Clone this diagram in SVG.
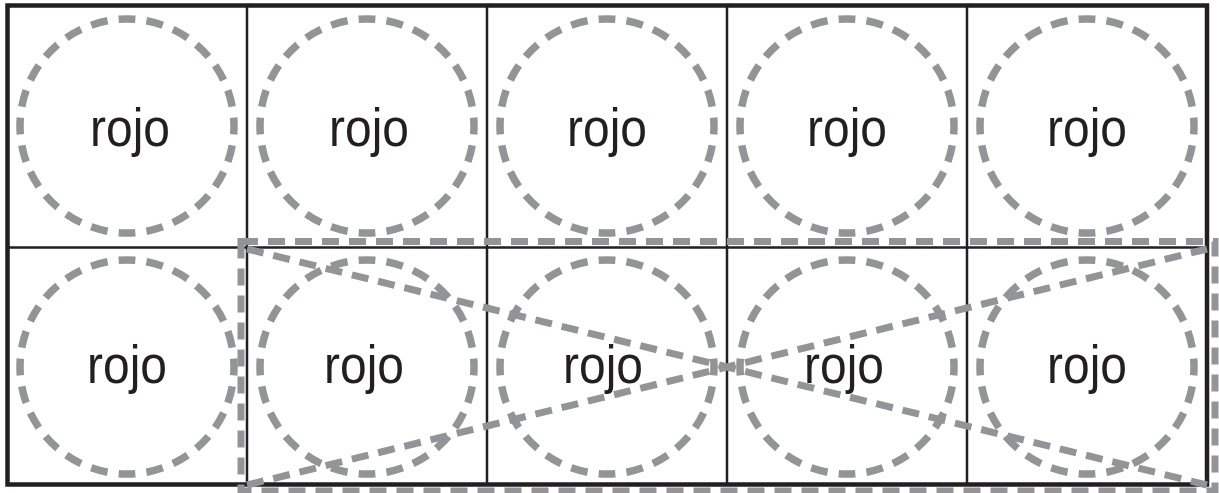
<svg xmlns="http://www.w3.org/2000/svg" width="1219" height="493" viewBox="0 0 1219 493">
  <style>
    .grid { fill: none; stroke: #231f20; }
    .ring { fill: none; stroke: #929497; stroke-width: 7.5; stroke-dasharray: 0.607 0.393; stroke-dashoffset: 0.3035; }
    .lbl { font-family: "Liberation Sans", Arial, sans-serif; font-size: 53px; fill: #231f20; text-anchor: middle; }
    .conn { fill: none; stroke: #929497; stroke-width: 7; stroke-dasharray: 17 10; }
  </style>
  <rect width="1219" height="493" fill="#ffffff"/>
  <g id="grid">
    <rect class="grid" x="7.5" y="5.5" width="1199.5" height="479" stroke-width="4.5"/>
    <line class="grid" x1="7.5" y1="247.5" x2="1207" y2="247.5" stroke-width="2.5"/>
    <line class="grid" x1="247" y1="5.5" x2="247" y2="484.5" stroke-width="2.5"/>
    <line class="grid" x1="487" y1="5.5" x2="487" y2="484.5" stroke-width="2.5"/>
    <line class="grid" x1="727" y1="5.5" x2="727" y2="484.5" stroke-width="2.5"/>
    <line class="grid" x1="967" y1="5.5" x2="967" y2="484.5" stroke-width="2.5"/>
  </g>
  <g id="node-r1c1"><circle class="ring" cx="127" cy="126" r="107" pathLength="24"/><text class="lbl" x="130" y="146" textLength="80" lengthAdjust="spacingAndGlyphs">rojo</text></g>
  <g id="node-r1c2"><circle class="ring" cx="367" cy="126" r="107" pathLength="24"/><text class="lbl" x="369" y="146" textLength="80" lengthAdjust="spacingAndGlyphs">rojo</text></g>
  <g id="node-r1c3"><circle class="ring" cx="607" cy="126" r="107" pathLength="24"/><text class="lbl" x="607" y="146" textLength="80" lengthAdjust="spacingAndGlyphs">rojo</text></g>
  <g id="node-r1c4"><circle class="ring" cx="847" cy="126" r="107" pathLength="24"/><text class="lbl" x="847" y="146" textLength="80" lengthAdjust="spacingAndGlyphs">rojo</text></g>
  <g id="node-r1c5"><circle class="ring" cx="1087" cy="126" r="107" pathLength="24"/><text class="lbl" x="1087" y="146" textLength="80" lengthAdjust="spacingAndGlyphs">rojo</text></g>
  <g id="node-r2c1"><circle class="ring" cx="127" cy="367" r="107" pathLength="24"/><text class="lbl" x="127" y="383" textLength="80" lengthAdjust="spacingAndGlyphs">rojo</text></g>
  <g id="node-r2c2"><circle class="ring" cx="367" cy="367" r="107" pathLength="24"/><text class="lbl" x="364" y="383" textLength="80" lengthAdjust="spacingAndGlyphs">rojo</text></g>
  <g id="node-r2c3"><circle class="ring" cx="607" cy="367" r="107" pathLength="24"/><text class="lbl" x="603" y="383" textLength="80" lengthAdjust="spacingAndGlyphs">rojo</text></g>
  <g id="node-r2c4"><circle class="ring" cx="847" cy="367" r="107" pathLength="24"/><text class="lbl" x="844" y="383" textLength="80" lengthAdjust="spacingAndGlyphs">rojo</text></g>
  <g id="node-r2c5"><circle class="ring" cx="1087" cy="367" r="107" pathLength="24"/><text class="lbl" x="1087" y="383" textLength="80" lengthAdjust="spacingAndGlyphs">rojo</text></g>
  <g id="connectors">
    <rect class="conn" x="241" y="241.5" width="974" height="249.5"/>
    <line class="conn" x1="247" y1="249" x2="1207" y2="485"/>
    <line class="conn" x1="247" y1="485" x2="1207" y2="249"/>
  </g>
</svg>
